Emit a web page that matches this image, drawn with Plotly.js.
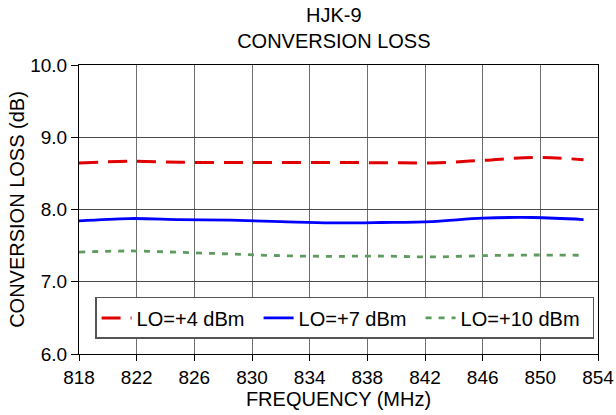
<!DOCTYPE html>
<html>
<head>
<meta charset="utf-8">
<script src="https://cdn.plot.ly/plotly-3.0.1.min.js"></script>
<style>html,body{margin:0;padding:0;background:#fff;}#chart{width:616px;height:415px;}</style>
</head>
<body>
<div id="chart"></div>
<script>
const freq = [818, 821.5, 825, 828.5, 832, 835.5, 839, 842.5, 846, 849.5, 853];
const lo4  = [8.643, 8.667, 8.653, 8.65, 8.65, 8.65, 8.648, 8.645, 8.68, 8.72, 8.69];
const lo7  = [7.843, 7.875, 7.861, 7.852, 7.833, 7.815, 7.82, 7.833, 7.88, 7.889, 7.861];
const lo10 = [7.41, 7.426, 7.407, 7.384, 7.361, 7.352, 7.356, 7.343, 7.361, 7.37, 7.366];
const names = ['LO=+4 dBm', 'LO=+7 dBm', 'LO=+10 dBm'];
const xTicks = [818, 822, 826, 830, 834, 838, 842, 846, 850, 854];
const yTicks = [6, 7, 8, 9, 10];

const font = 'Liberation Sans, Arial, sans-serif';
const traces = [
  {x: freq, y: lo4, name: names[0], mode: 'lines', legendwidth: 117, line: {color: '#e00000', width: 3, dash: '19px,10px', shape: 'spline'}},
  {x: freq, y: lo7, name: names[1], mode: 'lines', legendwidth: 117, line: {color: '#0000ff', width: 2.8, shape: 'spline'}},
  {x: freq, y: lo10, name: names[2], mode: 'lines', legendwidth: 127, line: {color: '#5f9a5f', width: 2.8, dash: '6px,7px', shape: 'spline'}}
];
const layout = {
  width: 616, height: 415,
  margin: {l: 79, r: 18, t: 65, b: 61},
  paper_bgcolor: '#fff', plot_bgcolor: '#fff',
  font: {family: font, size: 19, color: '#000'},
  title: {text: 'HJK-9<br>CONVERSION LOSS', x: 0.491, xref: 'paper', xanchor: 'center', y: 1 - 22/415, yref: 'container', yanchor: 'top', font: {family: font, size: 20, color: '#000'}},
  xaxis: {
    range: [818, 854], tickvals: xTicks, ticktext: xTicks.map(String),
    showgrid: true, gridcolor: '#6e6e6e', gridwidth: 1,
    showline: true, linecolor: '#000', linewidth: 1, mirror: true,
    ticks: 'outside', ticklen: 6, tickcolor: '#000',
    zeroline: false,
    tickfont: {family: font, size: 19, color: '#000'},
    title: {text: 'FREQUENCY (MHz)', font: {family: font, size: 20, color: '#000'}, standoff: 2}
  },
  yaxis: {
    range: [6, 10], tickvals: yTicks, ticktext: yTicks.map(v => v.toFixed(1)),
    showgrid: true, gridcolor: '#4a4a4a', gridwidth: 1,
    showline: true, linecolor: '#000', linewidth: 1, mirror: true,
    ticks: 'outside', ticklen: 7, tickcolor: '#000',
    zeroline: false,
    tickfont: {family: font, size: 19, color: '#000'},
    title: {text: 'CONVERSION LOSS (dB)', font: {family: font, size: 20, color: '#000'}, standoff: 0}
  },
  showlegend: true,
  legend: {
    orientation: 'h', x: 0.031, xanchor: 'left', y: 0.052, yanchor: 'bottom',
    bgcolor: '#fff', bordercolor: '#555', borderwidth: 1.5,
    font: {family: font, size: 20, color: '#000'},
    itemwidth: 30, tracegroupgap: 0, entrywidthmode: 'pixels'
  }
};
Plotly.newPlot('chart', traces, layout, {displayModeBar: false, staticPlot: true});
</script>
</body>
</html>
